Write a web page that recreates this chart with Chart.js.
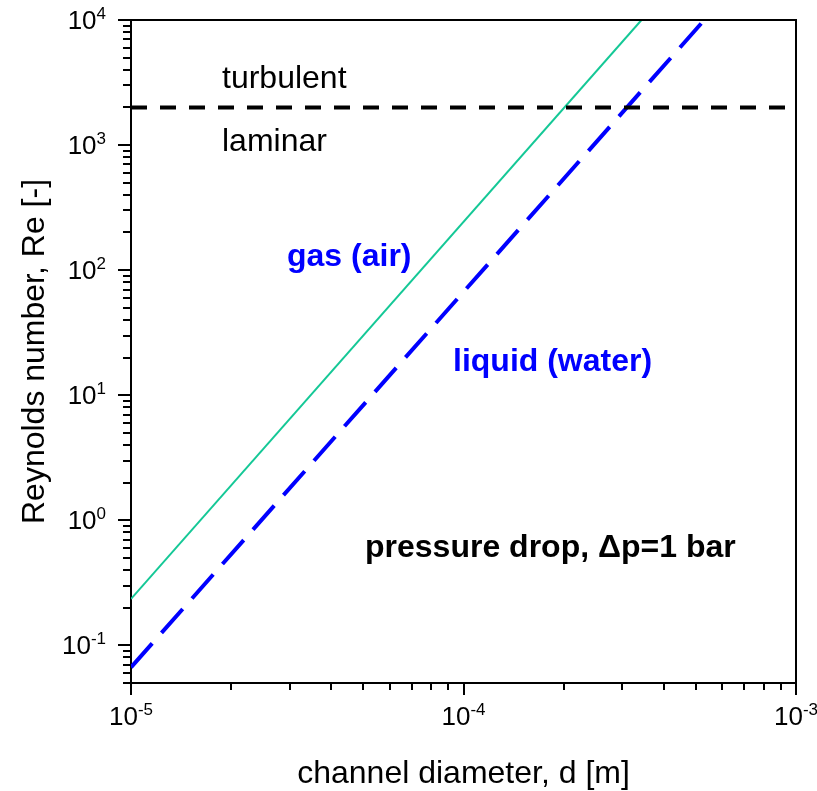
<!DOCTYPE html>
<html>
<head>
<meta charset="utf-8">
<script src="https://cdn.jsdelivr.net/npm/chart.js@4.4.1/dist/chart.umd.min.js"></script>
<style>
html,body{margin:0;padding:0;background:#fff;}
canvas{display:block;}
</style>
</head>
<body>
<canvas id="c" width="817" height="791"></canvas>
<script>
// ---- data ----
const gasDiameter = [1e-5, 3.43e-4];          // m
const gasRe = [0.235, 1e4];
const liquidDiameter = [1e-5, 5.3e-4];        // m
const liquidRe = [0.0667, 1e4];
const transitionDiameter = [1e-5, 1e-3];
const transitionRe = [2000, 2000];
const xTickExponents = ['-5', '-4', '-3'];
const xTickValues = [1e-5, 1e-4, 1e-3];
const yTickExponents = ['4', '3', '2', '1', '0', '-1'];
const yTickValues = [1e4, 1e3, 1e2, 1e1, 1e0, 1e-1];
const xTitle = 'channel diameter, d [m]';
const yTitle = 'Reynolds number, Re [-]';

const FONT = "'Liberation Sans', Arial, Helvetica, sans-serif";

function pts(xs, ys){ return xs.map((x,i)=>({x:x, y:ys[i]})); }

function minorValues(min, max){
  const out = [];
  for (let e = Math.floor(Math.log10(min)); e <= Math.ceil(Math.log10(max)); e++){
    for (let m = 1; m <= 9; m++){
      const v = m * Math.pow(10, e);
      if (v >= min*0.9999 && v <= max*1.0001) out.push({v:v, major: m===1});
    }
  }
  return out;
}

function drawPow(ctx, x, y, exp, align){
  ctx.save();
  ctx.fillStyle = '#000';
  ctx.textBaseline = 'alphabetic';
  ctx.textAlign = 'left';
  ctx.font = '26px ' + FONT;
  const w1 = ctx.measureText('10').width;
  ctx.font = '17px ' + FONT;
  const w2 = ctx.measureText(exp).width;
  const total = w1 + w2;
  let sx = align === 'right' ? x - total : x - total/2;
  ctx.font = '26px ' + FONT;
  ctx.fillText('10', sx, y);
  ctx.font = '17px ' + FONT;
  ctx.fillText(exp, sx + w1, y - 10);
  ctx.restore();
}

const axisPlugin = {
  id: 'axisPlugin',
  afterDraw(chart){
    const ctx = chart.ctx;
    const a = chart.chartArea;
    const xs = chart.scales.x, ys = chart.scales.y;
    ctx.save();
    // frame top and right
    ctx.strokeStyle = '#000';
    ctx.lineWidth = 2;
    ctx.beginPath();
    ctx.moveTo(a.left - 1, a.top);
    ctx.lineTo(a.right, a.top);
    ctx.lineTo(a.right, a.bottom + 1);
    ctx.stroke();
    // ticks
    ctx.lineWidth = 2;
    minorValues(xs.min, xs.max).forEach(t => {
      const px = Math.round(xs.getPixelForValue(t.v));
      ctx.beginPath();
      ctx.moveTo(px, a.bottom);
      ctx.lineTo(px, a.bottom + (t.major ? 12 : 7));
      ctx.stroke();
    });
    minorValues(ys.min, ys.max).forEach(t => {
      const py = Math.round(ys.getPixelForValue(t.v));
      ctx.beginPath();
      ctx.moveTo(a.left, py);
      ctx.lineTo(a.left - (t.major ? 13 : 8), py);
      ctx.stroke();
    });
    // tick labels
    xTickValues.forEach((v,i) => {
      drawPow(ctx, xs.getPixelForValue(v), 725, xTickExponents[i], 'center');
    });
    yTickValues.forEach((v,i) => {
      drawPow(ctx, 106, ys.getPixelForValue(v) + 9, yTickExponents[i], 'right');
    });
    // axis titles
    ctx.fillStyle = '#000';
    ctx.font = '32px ' + FONT;
    ctx.textAlign = 'center';
    ctx.textBaseline = 'alphabetic';
    ctx.fillText(xTitle, (a.left + a.right)/2, 783);
    ctx.save();
    ctx.translate(44, (a.top + a.bottom)/2);
    ctx.rotate(-Math.PI/2);
    ctx.fillText(yTitle, 0, 0);
    ctx.restore();
    // annotations
    ctx.textAlign = 'left';
    ctx.font = '32px ' + FONT;
    ctx.fillText('turbulent', 222, 88);
    ctx.fillText('laminar', 222, 151);
    ctx.font = 'bold 32px ' + FONT;
    ctx.fillStyle = '#0000ff';
    ctx.fillText('gas (air)', 287, 266);
    ctx.fillText('liquid (water)', 453, 371);
    ctx.fillStyle = '#000';
    ctx.fillText('pressure drop, \u0394p=1 bar', 365, 557);
    ctx.restore();
  }
};

new Chart(document.getElementById('c'), {
  type: 'scatter',
  data: {
    datasets: [
      {
        label: 'transition',
        data: pts(transitionDiameter, transitionRe),
        showLine: true, pointRadius: 0,
        borderColor: '#000', borderWidth: 4, borderDash: [16, 13]
      },
      {
        label: 'gas (air)',
        data: pts(gasDiameter, gasRe),
        showLine: true, pointRadius: 0,
        borderColor: '#14c896', borderWidth: 2
      },
      {
        label: 'liquid (water)',
        data: pts(liquidDiameter, liquidRe),
        showLine: true, pointRadius: 0,
        borderColor: '#0000ff', borderWidth: 4, borderDash: [32, 14]
      }
    ]
  },
  options: {
    responsive: false,
    animation: false,
    devicePixelRatio: 1,
    layout: { padding: { top: 20, right: 21, left: 0, bottom: 0 } },
    plugins: { legend: { display: false }, tooltip: { enabled: false } },
    scales: {
      x: {
        type: 'logarithmic', min: 1e-5, max: 1e-3,
        grid: { display: false, drawTicks: false },
        border: { display: true, color: '#000', width: 2 },
        ticks: { display: false },
        afterFit: s => { s.height = 108; }
      },
      y: {
        type: 'logarithmic', min: 0.05, max: 1e4,
        grid: { display: false, drawTicks: false },
        border: { display: true, color: '#000', width: 2 },
        ticks: { display: false },
        afterFit: s => { s.width = 131; }
      }
    }
  },
  plugins: [axisPlugin]
});
</script>
</body>
</html>
